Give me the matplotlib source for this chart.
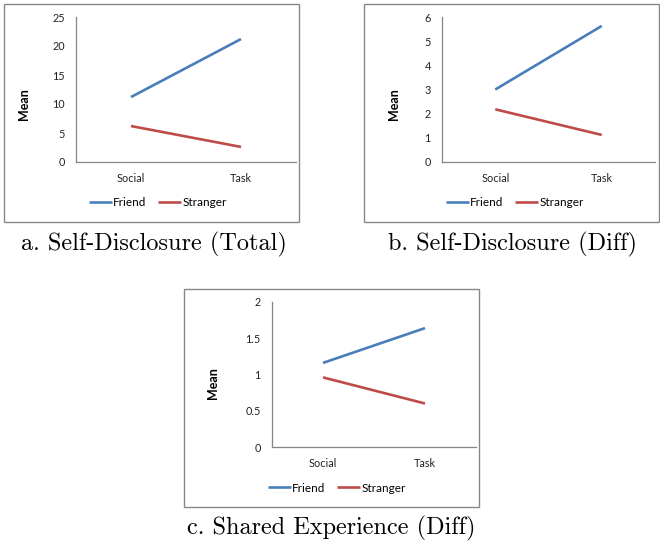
import matplotlib
matplotlib.use('Agg')
import matplotlib.pyplot as plt
from matplotlib.patches import Rectangle

categories = ['Social', 'Task']

friend_total = [11.2, 21.2]
stranger_total = [6.2, 2.6]

friend_diff = [3.0, 5.63]
stranger_diff = [2.18, 1.12]

friend_shared = [1.16, 1.64]
stranger_shared = [0.96, 0.60]

W, H = 660, 544
BLUE = '#4A7EBB'
RED = '#BE4B48'
GRAY = '#888888'

plt.rcParams['font.family'] = ['Lato', 'DejaVu Sans']

fig = plt.figure(figsize=(W / 100, H / 100), dpi=100)


def px_rect(left, top, right, bottom):
    return [left / W, 1 - bottom / H, (right - left) / W, (bottom - top) / H]


def panel(box, axbox, friend, stranger, yticks, ylabels, label_xy, legend_xy, caption, caption_xy):
    bl, bt, br, bb = box
    fig.patches.append(Rectangle((bl / W, 1 - bb / H), (br - bl) / W, (bb - bt) / H,
                                 transform=fig.transFigure, fill=False,
                                 edgecolor=GRAY, linewidth=1.0))
    ax = fig.add_axes(px_rect(*axbox))
    x = [0.5, 1.5]
    ax.plot(x, friend, color=BLUE, linewidth=1.9, label='Friend', solid_capstyle='butt')
    ax.plot(x, stranger, color=RED, linewidth=1.9, label='Stranger', solid_capstyle='butt')
    ax.set_xlim(0, 2)
    ax.set_ylim(yticks[0], yticks[-1])
    ax.set_xticks(x)
    ax.set_xticklabels(categories)
    ax.set_yticks(yticks)
    ax.set_yticklabels(ylabels)
    for s in ['top', 'right']:
        ax.spines[s].set_visible(False)
    for s in ['left', 'bottom']:
        ax.spines[s].set_color('#868686')
        ax.spines[s].set_linewidth(0.9)
    ax.tick_params(axis='both', length=0, labelsize=7.8, colors='#222222')
    ax.tick_params(axis='y', pad=8)
    ax.tick_params(axis='x', pad=8)
    ax.set_ylabel('Mean', fontsize=9, fontweight='bold')
    ax.yaxis.set_label_coords(*label_xy)
    ax.patch.set_alpha(0)
    fig.legend(handles=ax.get_lines(), loc='center',
               bbox_to_anchor=(legend_xy[0] / W, 1 - legend_xy[1] / H),
               ncol=2, frameon=False, fontsize=8.5, handlelength=1.95,
               handletextpad=0.12, columnspacing=1.0)
    fig.text(caption_xy[0] / W, 1 - caption_xy[1] / H, caption, family='cmr10',
             fontsize=17.5, ha='center', va='center')


panel((4, 4, 299, 222), (76, 17, 296, 162), friend_total, stranger_total,
      [0, 5, 10, 15, 20, 25], ['0', '5', '10', '15', '20', '25'],
      (-0.21, 0.4), (158, 203), 'a. Self-Disclosure (Total)', (154, 244))

panel((364, 4, 659, 222), (442, 17, 655, 162), friend_diff, stranger_diff,
      [0, 1, 2, 3, 4, 5, 6], ['0', '1', '2', '3', '4', '5', '6'],
      (-0.197, 0.4), (515, 203), 'b. Self-Disclosure (Diff)', (513, 244))

panel((184, 289, 479, 507), (272, 302, 476, 447), friend_shared, stranger_shared,
      [0, 0.5, 1, 1.5, 2], ['0', '0.5', '1', '1.5', '2'],
      (-0.26, 0.44), (337, 488), 'c. Shared Experience (Diff)', (331, 528))

fig.savefig('out.png', dpi=100)
